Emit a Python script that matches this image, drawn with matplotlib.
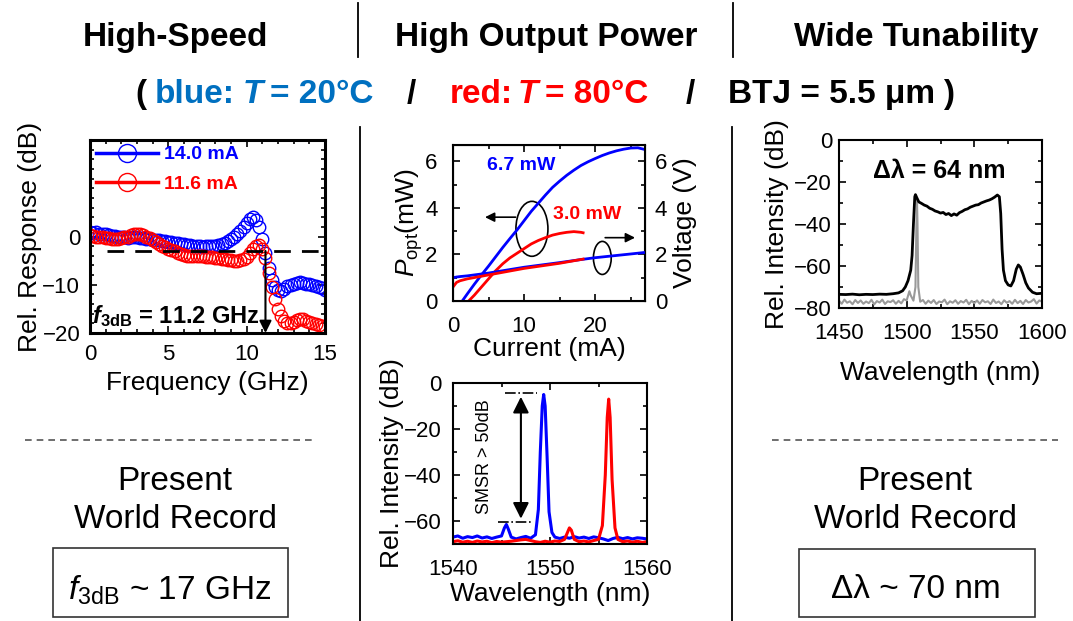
import numpy as np
import matplotlib.pyplot as plt
from matplotlib.patches import Ellipse, Rectangle
from matplotlib.lines import Line2D
from matplotlib.ticker import MultipleLocator

plt.rcParams['font.family'] = ['Liberation Sans', 'DejaVu Sans']
plt.rcParams['mathtext.fontset'] = 'custom'
plt.rcParams['mathtext.rm'] = 'Liberation Sans'
plt.rcParams['mathtext.it'] = 'Liberation Sans:italic'
plt.rcParams['mathtext.bf'] = 'Liberation Sans:bold'
plt.rcParams['mathtext.bfit'] = 'Liberation Sans:italic:bold'

# --- small-signal response (dB) vs frequency (GHz), 0..15 step 0.2
freq = np.arange(0, 15.01, 0.2)
resp_14mA = [1.0, 0.8, 0.9, 0.6, 0.5, 0.5, 0.3, 0.2, 0.2, 0.0,
             -0.2, -0.1, -0.3, -0.1, 0.0, -0.1, -0.3, -0.4, -0.5, -0.6,
             -0.7, -0.8, -0.8, -1.0, -1.0, -1.1, -1.2, -1.3, -1.4, -1.5,
             -1.6, -1.7, -1.8, -1.9, -2.0, -2.0, -2.1, -2.0, -2.0, -2.0,
             -1.9, -1.8, -1.6, -1.4, -1.0, -0.6, -0.1, 0.5, 1.2, 2.0,
             2.8, 3.6, 4.0, 3.5, 2.0, -0.5, -3.5, -6.5, -9.0, -10.5,
             -11.0, -11.2, -10.8, -10.3, -10.0, -9.8, -9.6, -9.5, -9.6, -9.8,
             -9.9, -10.0, -10.2, -10.4, -10.6, -11.0]
resp_11mA = [0.3, 0.2, 0.0, 0.0, -0.2, -0.3, -0.4, -0.5, -0.5, -0.6,
             -0.4, -0.2, 0.0, 0.3, 0.5, 0.6, 0.5, 0.3, 0.0, -0.4,
             -0.8, -1.2, -1.5, -1.9, -2.2, -2.5, -2.8, -3.1, -3.4, -3.6,
             -3.8, -4.0, -4.0, -4.1, -4.0, -4.0, -4.1, -4.2, -4.3, -4.3,
             -4.4, -4.5, -4.6, -4.7, -4.8, -4.9, -5.0, -5.0, -4.9, -4.6,
             -4.2, -3.5, -2.6, -2.0, -1.8, -2.5, -4.5, -7.5, -10.5, -13.0,
             -15.0, -16.5, -17.5, -18.0, -18.0, -17.8, -17.3, -17.0, -17.2, -17.6,
             -17.8, -18.0, -18.2, -18.3, -18.5, -18.8]
f3db = 11.2

# --- L-I-V
i_pow_blue = [1.3, 2, 3, 4, 5, 6, 7, 8, 9, 10, 11, 12, 13, 14, 15, 16, 17, 18, 19, 20,
              21, 22, 23, 24, 25, 26, 26.8]
p_blue = [0, 0.3, 0.72, 1.12, 1.5, 1.9, 2.3, 2.68, 3.05, 3.45, 3.85, 4.2, 4.55, 4.88,
          5.15, 5.4, 5.62, 5.82, 5.98, 6.12, 6.25, 6.36, 6.45, 6.52, 6.57, 6.58, 6.52]
i_pow_red = [2.2, 3, 4, 5, 6, 7, 8, 9, 10, 11, 12, 13, 14, 15, 16, 17, 18, 18.3]
p_red = [0, 0.25, 0.6, 0.95, 1.3, 1.6, 1.85, 2.05, 2.25, 2.45, 2.6, 2.72, 2.83, 2.9,
         2.95, 2.98, 2.95, 2.93]
i_v_blue = [0, 0.5, 1, 2, 5, 10, 15, 18, 20, 25, 26.8]
v_blue = [1.0, 1.03, 1.05, 1.08, 1.2, 1.45, 1.65, 1.78, 1.86, 2.02, 2.08]
i_v_red = [0, 0.5, 1, 2, 5, 10, 15, 18.3]
v_red = [0.6, 0.8, 0.87, 0.95, 1.12, 1.4, 1.62, 1.8]

# --- lasing spectra (1540-1560 nm)
wl_blue = [1540.0, 1540.5, 1541, 1541.5, 1542, 1542.5, 1543, 1543.5, 1544, 1544.5, 1545,
           1545.3, 1545.5, 1545.7, 1546, 1546.5, 1547, 1547.5, 1548, 1548.5, 1548.8, 1549.0,
           1549.2, 1549.35, 1549.5, 1549.7, 1549.9, 1550.2, 1550.5, 1551, 1551.5, 1552,
           1552.5, 1553, 1553.5, 1554, 1554.5, 1555, 1555.5, 1556, 1556.5, 1557, 1557.5,
           1558, 1558.5, 1559, 1559.5, 1560]
db_blue = [-67, -66.5, -67.5, -66.8, -67.2, -66.5, -67.4, -66.9, -67.6, -67.0, -66.5,
           -63, -61.5, -63.5, -67, -67.8, -67.2, -66.7, -67.5, -66, -55, -30,
           -10, -5, -10, -32, -56, -65, -67, -67.6, -67, -67.5,
           -66.8, -67.4, -67, -67.6, -66.9, -67.3, -67.8, -68.5, -67.6, -67.1, -67.7,
           -67.2, -67.8, -67.3, -67.5, -67.8]
wl_red = [1540, 1540.5, 1541, 1541.5, 1542, 1542.5, 1543, 1543.5, 1544, 1544.5, 1545,
          1546, 1547, 1547.5, 1548, 1548.5, 1549, 1549.5, 1550, 1550.5, 1551, 1551.5,
          1551.8, 1552.0, 1552.2, 1552.5, 1553, 1553.5, 1554, 1554.5, 1555, 1555.4,
          1555.7, 1555.9, 1556.05, 1556.2, 1556.4, 1556.7, 1557, 1557.5, 1558, 1558.5,
          1559, 1559.5, 1560]
db_red = [-69, -68.6, -69.2, -68.8, -69.3, -68.7, -69.1, -68.8, -69.4, -68.9, -69.2,
          -68.8, -68.2, -68, -68.5, -69, -69.3, -68.8, -69.2, -68.7, -68.9, -68,
          -65, -63, -64, -68, -69, -68.7, -69.1, -68.5, -68, -62,
          -40, -15, -7, -15, -42, -63, -68, -69, -68.7, -69.2,
          -68.8, -69.3, -69]

# --- tuning spectra (1450-1600 nm)
wl_tune = [1450, 1455, 1460, 1465, 1470, 1475, 1480, 1485, 1490, 1494, 1497, 1499, 1501,
           1503, 1504, 1505, 1506, 1506.5, 1507.5, 1509, 1511, 1513, 1515, 1517, 1519,
           1521, 1523, 1525, 1527, 1529, 1531, 1533, 1535, 1537, 1539, 1541, 1543, 1545,
           1547, 1549, 1551, 1553, 1555, 1557, 1559, 1561, 1563, 1565, 1567, 1568.5,
           1569.5, 1570.5, 1571.5, 1573, 1575, 1577, 1579, 1581, 1582.5, 1584, 1586, 1588,
           1590, 1593, 1596, 1600]
db_tune = [-73.5, -73.6, -73.4, -73.7, -73.5, -73.6, -73.4, -73.5, -73.2, -72.8, -71.8,
           -70, -67, -62, -55, -40, -27, -26, -27.5, -29.5, -30.2, -31, -31.5, -32.5, -33,
           -33.8, -34.2, -34.8, -34.5, -35.5, -35, -36, -35.2, -35.8, -34.6, -34, -33.2,
           -32.8, -32, -31.5, -31, -30.8, -30, -29.5, -29, -28.6, -28, -27.2, -26.2, -27,
           -35, -52, -62, -67, -69, -69.5, -67, -61.5, -59.5, -60.5, -64, -68,
           -70.5, -72.5, -73.2, -73]
wl_single = [1450, 1452, 1454, 1456, 1458, 1460, 1462, 1464, 1466, 1468, 1470, 1472, 1474,
             1476, 1478, 1480, 1482, 1484, 1486, 1488, 1490, 1492, 1494, 1496, 1498, 1500,
             1502, 1503, 1505, 1506.5, 1507.2, 1507.6, 1508, 1508.6, 1510, 1512, 1514,
             1516, 1518, 1520, 1522, 1524, 1526, 1528, 1530, 1532, 1534, 1536, 1538, 1540,
             1542, 1544, 1546, 1548, 1550, 1552, 1554, 1556, 1558, 1560, 1562, 1564, 1566,
             1568, 1570, 1572, 1574, 1576, 1578, 1580, 1582, 1584, 1586, 1588, 1590, 1592,
             1594, 1596, 1598, 1600]
db_single = [-76.5, -78, -76, -77.5, -76.8, -78.2, -76.2, -77.6, -76.4, -78, -76.9, -77.7,
             -76.1, -78.3, -76.7, -77.4, -76, -78.1, -76.8, -77.2, -76.3, -78, -76.6,
             -77.8, -75.8, -76.4, -72, -74, -76.5, -70, -40, -28, -40, -70, -77, -76.2,
             -78, -76.5, -77.6, -76.2, -78.1, -76.9, -77.3, -76, -78.2, -76.8, -77.5,
             -76.3, -78, -76.7, -77.4, -76.1, -78.2, -76.6, -77.7, -76.4, -78, -76.2,
             -77.3, -76.8, -78.1, -76, -77.6, -76.9, -78.2, -76.3, -77.5, -76.7, -78,
             -76.1, -77.7, -76.6, -78.1, -76.2, -77.4, -76.9, -75.8, -77.9, -76.4, -77]

BLUE, RED = '#0000ff', '#ff0000'
TXT_BLUE = '#0070c0'

W, H = 1073, 621
fig = plt.figure(figsize=(W / 100, H / 100), dpi=100)


def rect(l, t, r, b):
    return [l / W, 1 - b / H, (r - l) / W, (b - t) / H]


def style(ax, lw=1.5, xpad=10, ypad=8):
    for s in ax.spines.values():
        s.set_linewidth(lw)
    ax.tick_params(which='both', direction='in', top=True, right=True, labelsize=16,
                   width=1.2)
    ax.tick_params(which='major', length=5)
    ax.tick_params(which='minor', length=3)
    ax.tick_params(axis='x', pad=xpad)
    ax.tick_params(axis='y', pad=ypad)


# background layer in pixel units for headings, separators, boxes
bg = fig.add_axes([0, 0, 1, 1])
bg.set_xlim(0, W)
bg.set_ylim(H, 0)
bg.axis('off')

for x, s in [(175, 'High-Speed'), (546, 'High Output Power'), (916, 'Wide Tunability')]:
    bg.text(x, 46, s, ha='center', va='baseline', fontsize=24, fontweight='bold')
for x in (358, 733):
    bg.plot([x, x], [3, 57], color='k', lw=1.3)
for x in (360, 732):
    bg.plot([x, x], [127, H], color='k', lw=1.3)

sub = [(135, '(', 'k', 'normal'), (155, 'blue:', TXT_BLUE, 'normal'),
       (243, 'T', TXT_BLUE, 'italic'), (270, '= 20°C', TXT_BLUE, 'normal'),
       (407, '/', 'k', 'normal'), (450, 'red:', RED, 'normal'),
       (518, 'T', RED, 'italic'), (545, '= 80°C', RED, 'normal'),
       (686, '/', 'k', 'normal'), (728, 'BTJ = 5.5 μm', 'k', 'normal'),
       (943, ')', 'k', 'normal')]
for x, s, c, st in sub:
    bg.text(x, 103, s, ha='left', va='baseline', fontsize=24, fontweight='bold',
            color=c, fontstyle=st)

for x0, x1 in [(25, 313), (772, 1058)]:
    bg.plot([x0, x1], [440, 440], color='#555555', lw=1.2, dashes=(4, 3))
for xc in (175, 915):
    bg.text(xc, 482, 'Present', ha='center', va='center', fontsize=24)
    bg.text(xc, 520, 'World Record', ha='center', va='center', fontsize=24)
bg.add_patch(Rectangle((53, 548), 235, 69, fill=False, ec='#333333', lw=1.2))
bg.add_patch(Rectangle((799, 549), 236, 68, fill=False, ec='#333333', lw=1.2))
bg.text(170, 590, r'$f_{\mathrm{3dB}}$ ~ 17 GHz', ha='center', va='center', fontsize=24)
bg.text(916, 590, 'Δλ ~ 70 nm', ha='center', va='center', fontsize=24)

# --- panel 1: modulation response
ax1 = fig.add_axes(rect(90, 140, 325, 333))
ax1.plot(freq, resp_14mA, 'o', mfc='none', mec=BLUE, ms=9, mew=1.0)
ax1.plot(freq, resp_11mA, 'o', mfc='none', mec=RED, ms=9, mew=1.0)
ax1.plot([1.1, 15], [-3, -3], color='k', lw=2, dashes=(6, 4))
ax1.annotate('', xy=(f3db, -20), xytext=(f3db, -3),
             arrowprops=dict(arrowstyle='-|>', color='k', lw=1.5, mutation_scale=18,
                             shrinkA=0, shrinkB=0))
ax1.text(0.15, -18, r'$\mathbfit{f}_{\mathbf{3dB}}$ = 11.2 GHz', fontsize=17,
         fontweight='bold', va='baseline')
handles = [Line2D([], [], color=BLUE, marker='o', mfc='none', ms=13, lw=2.5),
           Line2D([], [], color=RED, marker='o', mfc='none', ms=13, lw=2.5)]
ax1.legend(handles, ['14.0 mA', '11.6 mA'], loc='upper left', frameon=False,
           handlelength=3.2, handletextpad=0.3, labelspacing=0.6, borderaxespad=0.2,
           borderpad=0.1, prop={'weight': 'bold', 'size': 14}, labelcolor='linecolor')
ax1.set_xlim(0, 15)
ax1.set_ylim(-20, 20)
ax1.set_xticks([0, 5, 10, 15])
ax1.set_yticks([-20, -10, 0])
ax1.xaxis.set_minor_locator(MultipleLocator(1))
ax1.yaxis.set_minor_locator(MultipleLocator(2))
style(ax1, lw=2.2, xpad=8, ypad=7)
ax1.set_xlabel('Frequency (GHz)', fontsize=19, labelpad=4)
ax1.set_ylabel('Rel. Response (dB)', fontsize=19, labelpad=0)

# --- panel 2: L-I-V
ax2 = fig.add_axes(rect(453, 145, 645, 301))
ax2.plot(i_pow_blue, p_blue, color=BLUE, lw=2)
ax2.plot(i_pow_red, p_red, color=RED, lw=2)
ax2v = ax2.twinx()
ax2v.plot(i_v_blue, v_blue, color=BLUE, lw=2)
ax2v.plot(i_v_red, v_red, color=RED, lw=2)
ax2.add_patch(Ellipse((11.1, 3.1), 4.5, 2.36, fill=False, ec='k', lw=1.2))
ax2.add_patch(Ellipse((21.0, 1.85), 2.5, 1.42, fill=False, ec='k', lw=1.2))
ax2.annotate('', xy=(4.5, 3.6), xytext=(8.8, 3.6),
             arrowprops=dict(arrowstyle='-|>', color='k', lw=1.2, mutation_scale=14,
                             shrinkA=0, shrinkB=0))
ax2.annotate('', xy=(25.6, 2.72), xytext=(21.4, 2.72),
             arrowprops=dict(arrowstyle='-|>', color='k', lw=1.2, mutation_scale=14,
                             shrinkA=0, shrinkB=0))
ax2.text(4.8, 5.8, '6.7 mW', color=BLUE, fontsize=14, fontweight='bold', va='center')
ax2.text(14.1, 3.7, '3.0 mW', color=RED, fontsize=14, fontweight='bold', va='center')
for a in (ax2, ax2v):
    a.set_xlim(0, 27)
    a.set_ylim(0, 6.7)
    a.set_yticks([0, 2, 4, 6])
    a.yaxis.set_minor_locator(MultipleLocator(1))
ax2.set_xticks([0, 10, 20])
ax2.xaxis.set_minor_locator(MultipleLocator(5))
style(ax2, xpad=11, ypad=11)
ax2.tick_params(which='both', right=False)
ax2v.tick_params(which='both', direction='in', labelsize=16, width=1.2, pad=7)
ax2v.tick_params(which='major', length=5)
ax2v.tick_params(which='minor', length=3)
ax2.set_xlabel('Current (mA)', fontsize=19, labelpad=0)
ax2.set_ylabel(r'$P_{\mathrm{opt}}$(mW)', fontsize=19, labelpad=0)
ax2v.set_ylabel('Voltage (V)', fontsize=19, labelpad=4)

# --- panel 3: lasing spectra
ax3 = fig.add_axes(rect(453, 383, 647, 544))
ax3.plot(wl_blue, db_blue, color=BLUE, lw=2.2)
ax3.plot(wl_red, db_red, color=RED, lw=2.2)
ax3.plot([1545.4, 1548.7], [-4.5, -4.5], color='k', lw=1.2, ls='-.')
ax3.plot([1544.6, 1548.0], [-60.5, -60.5], color='k', lw=1.2, ls='-.')
ax3.annotate('', xy=(1547.0, -59), xytext=(1547.0, -6),
             arrowprops=dict(arrowstyle='<|-|>', color='k', lw=1.5, mutation_scale=24,
                             shrinkA=0, shrinkB=0))
ax3.text(1543.2, -32, 'SMSR > 50dB', rotation=90, ha='center', va='center', fontsize=13)
ax3.set_xlim(1540, 1560)
ax3.set_ylim(-70, 0)
ax3.set_xticks([1540, 1550, 1560])
ax3.set_yticks([-60, -40, -20, 0])
ax3.xaxis.set_minor_locator(MultipleLocator(5))
ax3.yaxis.set_minor_locator(MultipleLocator(10))
style(ax3, xpad=11, ypad=8)
ax3.set_xlabel('Wavelength (nm)', fontsize=19, labelpad=1)
ax3.set_ylabel('Rel. Intensity (dB)', fontsize=19, labelpad=0)

# --- panel 4: tuning spectra
ax4 = fig.add_axes(rect(839, 140, 1042, 308))
ax4.plot(wl_single, db_single, color='#999999', lw=1.5)
ax4.plot(wl_tune, db_tune, color='k', lw=2)
ax4.text(1524, -15, 'Δλ = 64 nm', ha='center', va='center', fontsize=18,
         fontweight='bold')
ax4.set_xlim(1450, 1600)
ax4.set_ylim(-80, 0)
ax4.set_xticks([1450, 1500, 1550, 1600])
ax4.set_yticks([-80, -60, -40, -20, 0])
ax4.xaxis.set_minor_locator(MultipleLocator(25))
ax4.yaxis.set_minor_locator(MultipleLocator(10))
style(ax4, xpad=11, ypad=5)
ax4.set_xlabel('Wavelength (nm)', fontsize=19, labelpad=12)
ax4.set_ylabel('Rel. Intensity (dB)', fontsize=19, labelpad=4)

fig.savefig('out.png', dpi=100)
